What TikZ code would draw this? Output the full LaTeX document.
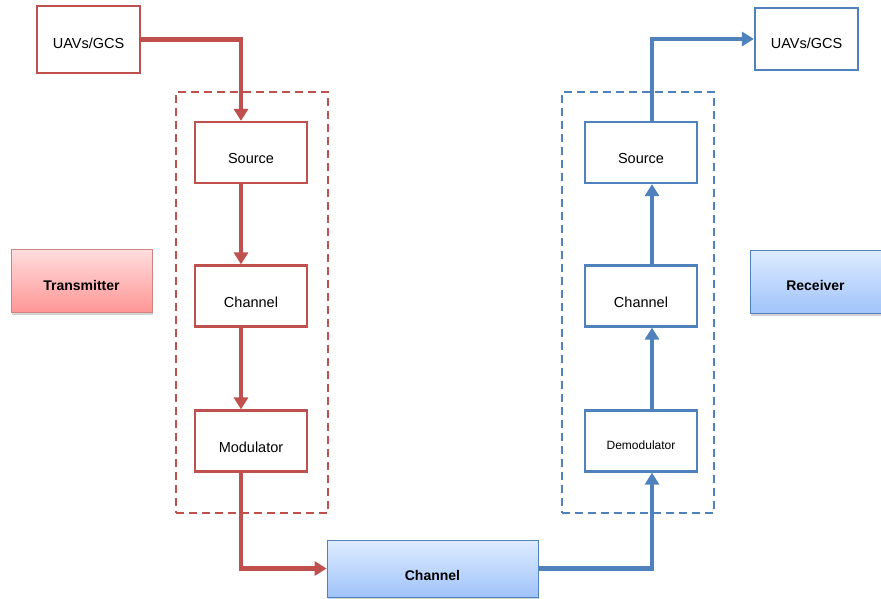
\documentclass[tikz,border=0pt]{standalone}
\usepackage{fontspec}
\setmainfont{Liberation Sans}
\usetikzlibrary{arrows.meta,shadows}
\definecolor{rd}{RGB}{192,80,77}
\definecolor{bl}{RGB}{79,129,189}
\definecolor{rdlt}{RGB}{255,222,222}
\definecolor{rddk}{RGB}{255,150,150}
\definecolor{bllt}{RGB}{222,236,255}
\definecolor{bldk}{RGB}{160,195,250}
\newcommand\lowtext[2]{\raisebox{-#1}[0pt][0pt]{#2}}
\tikzset{
  blk/.style={draw, line width=2.2pt, fill=white, inner sep=0pt, minimum width=112pt, minimum height=61pt, font=\fontsize{14.5}{16}\selectfont},
  grp/.style={draw, line width=2pt, dash pattern=on 8pt off 5pt, inner sep=0pt, minimum width=152pt, minimum height=421pt},
  lbl/.style={draw, line width=0.8pt, inner sep=0pt, font=\bfseries\fontsize{14}{16}\selectfont, drop shadow={opacity=0.35, shadow xshift=1pt, shadow yshift=-2.5pt}},
  flow/.style={line width=4.5pt, line join=miter, -{Triangle[width=14pt,length=12pt]}}
}
\begin{document}
\begin{tikzpicture}[x=1pt,y=-1pt]
\useasboundingbox (0,0) rectangle (881,598);
% groups
\node[grp, draw=rd] (tgrp) at (252,302.5) {};
\node[grp, draw=bl] (rgrp) at (638,302.5) {};
% left chain
\node[blk, draw=rd, minimum width=103pt, minimum height=67pt] (uavl) at (88.5,39.5) {\lowtext{9pt}{UAVs/GCS}};
\node[blk, draw=rd] (srcl) at (251,152.5) {\lowtext{10.7pt}{Source}};
\node[blk, draw=rd] (chl) at (251,296) {\lowtext{11pt}{Channel}};
\node[blk, draw=rd] (mod) at (251,441) {\lowtext{11pt}{Modulator}};
% right chain
\node[blk, draw=bl, minimum width=103pt, minimum height=62pt] (uavr) at (806.5,39) {\lowtext{9pt}{UAVs/GCS}};
\node[blk, draw=bl] (srcr) at (641,152.5) {\lowtext{10.7pt}{Source}};
\node[blk, draw=bl] (chr) at (641,296) {\lowtext{11pt}{Channel}};
\node[blk, draw=bl, font=\fontsize{12}{14}\selectfont] (demod) at (641,441) {\lowtext{8.3pt}{Demodulator}};
% labels
\node[lbl, draw=rd!70, top color=rdlt, bottom color=rddk, minimum width=141pt, minimum height=63pt] (tx) at (81.5,280.5) {\lowtext{9.5pt}{Transmitter}};
\node[lbl, draw=bl, top color=bllt, bottom color=bldk, minimum width=131pt, minimum height=63pt] (rx) at (815.5,281.5) {\lowtext{8.5pt}{Receiver}};
\node[lbl, draw=bl, top color=bllt, bottom color=bldk, minimum width=211pt, minimum height=57pt] (chb) at (432.5,568.5) {\lowtext{11.5pt}{Channel}};
% red flow
\draw[flow, draw=rd] (uavl.east) -- ([xshift=-10pt]uavl.east -| srcl.north) -- ([xshift=-10pt]srcl.north);
\draw[flow, draw=rd] ([xshift=-10pt]srcl.south) -- ([xshift=-10pt]chl.north);
\draw[flow, draw=rd] ([xshift=-10pt]chl.south) -- ([xshift=-10pt]mod.north);
\draw[flow, draw=rd] ([xshift=-10pt]mod.south) -- ([xshift=-10pt]mod.south |- chb.west) -- (chb.west);
% blue flow
\draw[flow, draw=bl] (chb.east) -- ([xshift=11pt]demod.south |- chb.east) -- ([xshift=11pt]demod.south);
\draw[flow, draw=bl] ([xshift=11pt]demod.north) -- ([xshift=11pt]chr.south);
\draw[flow, draw=bl] ([xshift=11pt]chr.north) -- ([xshift=11pt]srcr.south);
\draw[flow, draw=bl] ([xshift=11pt]srcr.north) -- ([xshift=11pt]srcr.north |- uavr.west) -- (uavr.west);
\end{tikzpicture}
\end{document}
